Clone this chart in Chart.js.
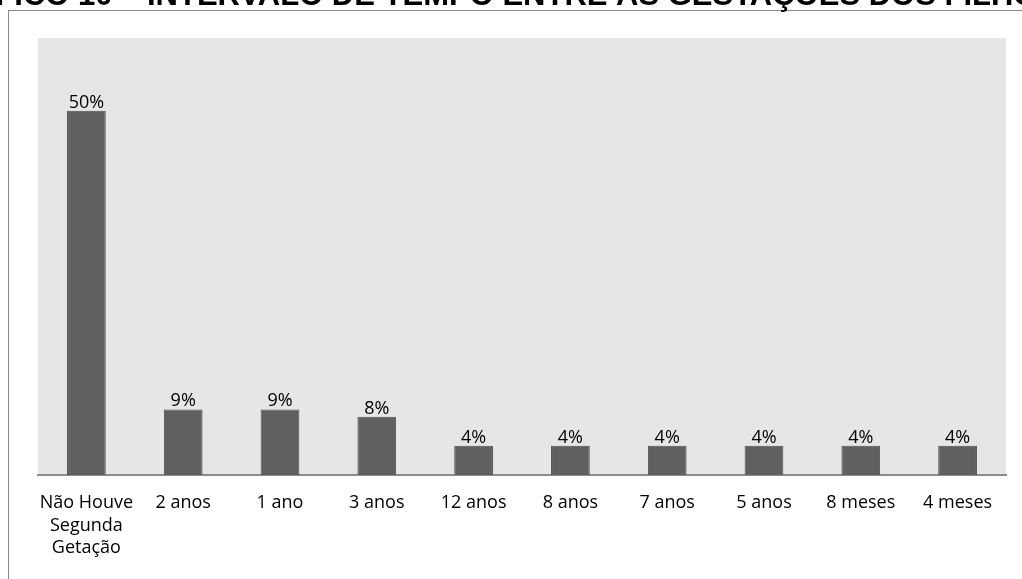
<!DOCTYPE html>
<html>
<head>
<meta charset="utf-8">
<script src="https://cdn.jsdelivr.net/npm/chart.js@4/dist/chart.umd.min.js"></script>
<style>
  html, body { margin: 0; padding: 0; background: #fff; overflow: hidden; }
  #wrap { position: relative; width: 1022px; height: 579px; }
  #frame { position: absolute; left: 8px; top: 10px; width: 1100px; height: 700px;
           border-left: 1px solid #8a8a8a; border-top: 1px solid #8a8a8a; }
  canvas { position: absolute; left: 0; top: 0; }
</style>
</head>
<body>
<div id="wrap">
  <div id="frame"></div>
  <canvas id="grafico" width="1022" height="579"></canvas>
</div>
<script>
const categorias = [['Não Houve', 'Segunda', 'Getação'], '2 anos', '1 ano', '3 anos', '12 anos',
    '8 anos', '7 anos', '5 anos', '8 meses', '4 meses'];
const valores = [50, 9, 9, 8, 4, 4, 4, 4, 4, 4]; // percentuais
const escalaMax = 60;
const titulo = 'GRÁFICO 10 – INTERVALO DE TEMPO ENTRE AS GESTAÇÕES DOS FILHOS';

const fonte = "'Open Sans', sans-serif";

// fundo cinza da área do gráfico, rótulos e título cortado
const extras = {
    id: 'extras',
    beforeDraw(chart) {
        const { ctx, chartArea: a } = chart;
        ctx.save();
        ctx.fillStyle = '#e6e6e6';
        ctx.fillRect(a.left, a.top, a.right - a.left, a.bottom - a.top);
        ctx.restore();
    },
    afterDraw(chart) {
        const ctx = chart.ctx;
        const meta = chart.getDatasetMeta(0);
        ctx.save();
        ctx.fillStyle = '#000';
        ctx.font = '18px ' + fonte;
        ctx.textAlign = 'center';
        ctx.textBaseline = 'alphabetic';
        meta.data.forEach((bar, i) => {
            ctx.fillText(valores[i] + '%', bar.x, bar.y - 3);
        });
        // título (só a parte de baixo aparece)
        ctx.font = "bold 31px 'Liberation Sans', sans-serif";
        ctx.textAlign = 'left';
        const prefixo = ctx.measureText('GRÁFICO 10 – ').width;
        ctx.fillText(titulo, 147 - prefixo, 5);
        ctx.restore();
    }
};

new Chart(document.getElementById('grafico').getContext('2d'), {
    type: 'bar',
    data: {
        labels: categorias,
        datasets: [{
            data: valores,
            backgroundColor: '#606060',
            borderColor: '#4f4f4f',
            borderWidth: 1,
            barPercentage: 0.4,
            categoryPercentage: 1
        }]
    },
    options: {
        responsive: false,
        animation: false,
        layout: { padding: { left: 38, right: 16, top: 38, bottom: 0 } },
        plugins: { legend: { display: false }, tooltip: { enabled: false } },
        scales: {
            x: {
                grid: { display: false },
                border: { color: '#8c8c8c', width: 2 },
                ticks: {
                    color: '#000',
                    font: { family: fonte, size: 18, lineHeight: 1.25 },
                    padding: 9,
                    maxRotation: 0,
                    autoSkip: false
                },
                afterFit(scale) { scale.height = 104; }
            },
            y: {
                display: false,
                min: 0,
                max: escalaMax
            }
        }
    },
    plugins: [extras]
});
</script>
</body>
</html>
